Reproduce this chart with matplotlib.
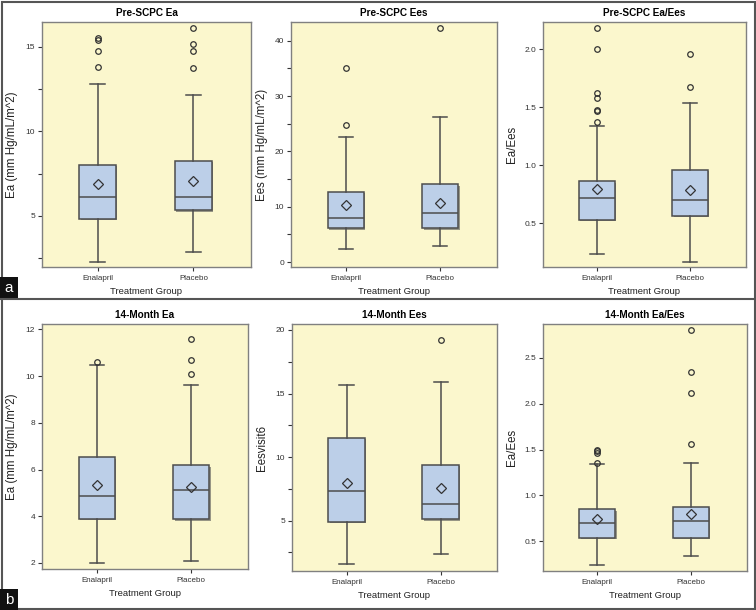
import matplotlib.pyplot as plt
import matplotlib.patheffects as pe
from matplotlib.patches import Rectangle
from matplotlib.ticker import MultipleLocator

plt.rcParams['font.family'] = ['Liberation Sans', 'DejaVu Sans']

groups = ['Enalapril', 'Placebo']

# box summaries per group: low whisker, Q1, median, Q3, high whisker
pre_ea_box = [[2.27, 4.80, 6.13, 8.02, 12.83], [2.87, 5.32, 6.13, 8.26, 12.13]]
pre_ea_mean = [6.86, 7.07]
pre_ea_out = [[13.83, 14.76, 15.42, 15.53], [13.75, 14.74, 15.16, 16.15]]

pre_ees_box = [[2.41, 6.08, 7.89, 12.65, 22.59], [2.95, 6.08, 8.80, 14.04, 26.2]]
pre_ees_mean = [10.36, 10.66]
pre_ees_out = [[24.76, 35.0], [42.35]]

pre_ratio_box = [[0.233, 0.532, 0.721, 0.862, 1.339], [0.170, 0.566, 0.701, 0.963, 1.537]]
pre_ratio_mean = [0.796, 0.787]
pre_ratio_out = [[1.371, 1.466, 1.477, 1.578, 1.624, 2.0, 2.187], [1.678, 1.960]]

m14_ea_box = [[2.0, 3.90, 4.88, 6.52, 10.47], [2.07, 3.87, 5.14, 6.18, 9.63]]
m14_ea_mean = [5.34, 5.25]
m14_ea_out = [[10.6], [10.10, 10.67, 11.58]]

m14_ees_box = [[1.56, 4.92, 7.31, 11.52, 15.7], [2.35, 5.10, 6.29, 9.39, 15.94]]
m14_ees_mean = [7.97, 7.60]
m14_ees_out = [[], [19.22]]

m14_ratio_box = [[0.245, 0.54, 0.70, 0.85, 1.338], [0.343, 0.536, 0.725, 0.875, 1.35]]
m14_ratio_mean = [0.74, 0.80]
m14_ratio_out = [[1.35, 1.46, 1.48, 1.50], [1.56, 2.12, 2.35, 2.81]]

W, H = 756, 610
fig = plt.figure(figsize=(W / 100, H / 100), dpi=100)
fig.patch.set_facecolor('white')

BG = '#fbf7cd'
BOX = '#bccfe8'
EDGE = '#4d4d4d'


def make_ax(left, right, top, bottom):
    return fig.add_axes([left / W, 1 - bottom / H, (right - left) / W, (bottom - top) / H])


def draw_panel(ax, title, ylabel, box, means, outs, ylim, major, minor, label_x, left, right):
    stats = []
    for b, m, o in zip(box, means, outs):
        stats.append(dict(whislo=b[0], q1=b[1], med=b[2], q3=b[3], whishi=b[4],
                          mean=m, fliers=o))
    res = ax.bxp(stats, positions=[1, 2], widths=0.385, capwidths=0.15,
                 patch_artist=True, showmeans=True, manage_ticks=False,
                 boxprops=dict(facecolor=BOX, edgecolor=EDGE, linewidth=1.1),
                 medianprops=dict(color=EDGE, linewidth=1.1),
                 whiskerprops=dict(color=EDGE, linewidth=1.1),
                 capprops=dict(color=EDGE, linewidth=1.1),
                 meanprops=dict(marker='D', markersize=5, markerfacecolor='none',
                                markeredgecolor='#333333', markeredgewidth=0.9),
                 flierprops=dict(marker='o', markersize=4, markerfacecolor='none',
                                 markeredgecolor='#333333', markeredgewidth=0.9))
    for patch in res['boxes']:
        patch.set_path_effects([pe.SimplePatchShadow(offset=(1, -1), shadow_rgbFace='#555555',
                                                     alpha=0.6), pe.Normal()])
    ax.set_facecolor(BG)
    ax.set_xlim(0.42, 2.6)
    ax.set_ylim(*ylim)
    ax.set_xticks([1, 2])
    ax.set_xticklabels(groups)
    ax.yaxis.set_major_locator(MultipleLocator(major))
    if minor:
        ax.yaxis.set_minor_locator(MultipleLocator(minor))
    ax.tick_params(axis='both', which='both', labelsize=6, colors='#333333',
                   length=3, width=0.8, pad=2)
    ax.tick_params(axis='x', labelsize=5.8, pad=3)
    for s in ax.spines.values():
        s.set_color('#808080')
        s.set_linewidth(1.0)
    ax.set_title(title, fontsize=7.2, fontweight='bold', pad=4)
    ax.set_xlabel('Treatment Group', fontsize=6.8, color='#222222', labelpad=3)
    ax.set_ylabel(ylabel, fontsize=8.3, color='#222222')
    ax.yaxis.set_label_coords((label_x - left) / (right - left), 0.5)


ax1 = make_ax(42, 251, 22, 267)
draw_panel(ax1, 'Pre-SCPC Ea', 'Ea (mm Hg/mL/m^2)', pre_ea_box, pre_ea_mean, pre_ea_out,
           (1.96, 16.48), 5, 2.5, 18, 42, 251)
ax2 = make_ax(291, 497, 22, 267)
draw_panel(ax2, 'Pre-SCPC Ees', 'Ees (mm Hg/mL/m^2)', pre_ees_box, pre_ees_mean, pre_ees_out,
           (-0.9, 43.4), 10, 5, 268, 291, 497)
ax3 = make_ax(543, 746, 22, 267)
draw_panel(ax3, 'Pre-SCPC Ea/Ees', 'Ea/Ees', pre_ratio_box, pre_ratio_mean, pre_ratio_out,
           (0.124, 2.236), 0.5, None, 518, 543, 746)
ax4 = make_ax(42, 248, 324, 569)
draw_panel(ax4, '14-Month Ea', 'Ea (mm Hg/mL/m^2)', m14_ea_box, m14_ea_mean, m14_ea_out,
           (1.74, 12.23), 2, None, 18, 42, 248)
ax5 = make_ax(292, 497, 324, 571)
draw_panel(ax5, '14-Month Ees', 'Eesvisit6', m14_ees_box, m14_ees_mean, m14_ees_out,
           (1.03, 20.47), 5, 2.5, 268, 292, 497)
ax6 = make_ax(543, 747, 324, 571)
draw_panel(ax6, '14-Month Ea/Ees', 'Ea/Ees', m14_ratio_box, m14_ratio_mean, m14_ratio_out,
           (0.176, 2.87), 0.5, None, 518, 543, 747)

# outer frame and divider between parts a and b
fig.add_artist(Rectangle((1.5 / W, 1.5 / H), (W - 3) / W, (H - 3) / H, transform=fig.transFigure,
                         fill=False, edgecolor='#555555', linewidth=1.5))
fig.add_artist(plt.Line2D([0, 1], [1 - 299 / H, 1 - 299 / H], transform=fig.transFigure,
                          color='#555555', linewidth=1.5))

# part labels
for lab, top, bot in [('a', 277, 299), ('b', 589, 610)]:
    fig.add_artist(Rectangle((0, 1 - bot / H), 18 / W, (bot - top) / H, transform=fig.transFigure,
                             facecolor='#111111', edgecolor='none'))
    fig.text(9 / W, 1 - (top + bot) / 2 / H, lab, color='white', fontsize=11,
             ha='center', va='center')

fig.savefig('out.png', dpi=100, facecolor='white')
